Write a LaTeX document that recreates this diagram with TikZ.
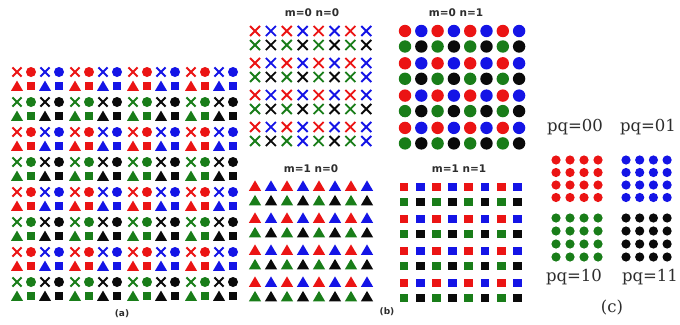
\documentclass[tikz,border=0pt]{standalone}
\usepackage{fontspec}
\setmainfont{DejaVu Serif}
\newfontfamily\titlefont{DejaVu Sans}
\definecolor{cR}{RGB}{235,20,20}
\definecolor{cB}{RGB}{20,20,230}
\definecolor{cG}{RGB}{25,125,25}
\definecolor{cK}{RGB}{10,10,10}
\definecolor{txt}{RGB}{45,45,45}
\tikzset{
  symx/.pic={\draw[line width=1.9pt] (-#1,-#1) -- (#1,#1) (-#1,#1) -- (#1,-#1);},
  symo/.pic={\fill (0,0) circle (#1pt);},
  symt/.pic={\fill (-#1,0.8*#1) -- (#1,0.8*#1) -- (0,-0.9*#1) -- cycle;},
  syms/.pic={\fill (-#1,-#1) rectangle (#1,#1);},
  ttl/.style={font=\titlefont\bfseries\fontsize{10.5}{12}\selectfont, text=txt},
  sublbl/.style={font=\titlefont\bfseries\fontsize{9}{10}\selectfont, text=txt},
  pqlbl/.style={font=\fontsize{16.5}{18}\selectfont, text=txt},
}
\begin{document}
\begin{tikzpicture}[x=1pt,y=-1pt]
\useasboundingbox (0,0) rectangle (680,324);
\fill[white] (0,0) rectangle (680,324);
% ---------- panel (a)
\foreach \b in {0,1,2,3}{
  \foreach \q/\ca/\cb in {0/cR/cB,1/cG/cK,2/cR/cB,3/cG/cK,4/cR/cB,5/cG/cK,6/cR/cB,7/cG/cK}{
    \pgfmathsetmacro\xx{17+58*\b}
    \pgfmathsetmacro\yy{72+30*\q}
    \pic[color=\ca] at (\xx,\yy) {symx=4.6};
    \pic[color=\ca] at (\xx+14,\yy) {symo=5};
    \pic[color=\cb] at (\xx+28,\yy) {symx=4.6};
    \pic[color=\cb] at (\xx+42,\yy) {symo=5};
    \pic[color=\ca] at (\xx,\yy+14) {symt=6};
    \pic[color=\ca] at (\xx+14,\yy+14) {syms=4};
    \pic[color=\cb] at (\xx+28,\yy+14) {symt=6};
    \pic[color=\cb] at (\xx+42,\yy+14) {syms=4};
  }
}
\node[sublbl] (la) at (122,314) {(a)};
% ---------- panel (b): m=0 n=0 crosses
\node[ttl] (t00) at (312,13) {m=0 n=0};
\foreach \r/\cl in {0/{cR,cB,cR,cB,cR,cB,cR,cB},1/{cG,cK,cG,cK,cG,cK,cG,cK},
                    2/{cR,cB,cR,cB,cR,cB,cR,cB},3/{cG,cK,cG,cK,cG,cK,cG,cB},
                    4/{cR,cB,cR,cB,cR,cB,cR,cB},5/{cG,cK,cG,cK,cG,cK,cG,cK},
                    6/{cR,cB,cR,cB,cR,cB,cR,cB},7/{cG,cK,cG,cB,cG,cK,cG,cB}}{
  \pgfmathsetmacro\yy{31+32*int(\r/2)+14*mod(\r,2)}
  \foreach \c [count=\k from 0] in \cl{
    \pic[color=\c] at (255+15.9*\k,\yy) {symx=5};
  }
}
% circles, triangles, squares
\node[ttl] (t01) at (456,13) {m=0 n=1};
\foreach \r in {0,...,7}{
  \pgfmathtruncatemacro\rodd{mod(\r,2)}
  \pgfmathtruncatemacro\pr{int(\r/2)}
  \foreach \k in {0,...,7}{
    \pgfmathtruncatemacro\odd{mod(\k,2)}
    \ifnum\rodd=0 \ifnum\odd=0 \def\c{cR}\else\def\c{cB}\fi
    \else \ifnum\odd=0 \def\c{cG}\else\def\c{cK}\fi\fi
    \pic[color=\c] at (405+16.3*\k,31+32.3*\pr+15.5*\rodd) {symo=6.2};
    \pic[color=\c] at (255+16*\k,186+32*\pr+14.5*\rodd) {symt=6.2};
    \pic[color=\c] at (404+16.2*\k,187+32*\pr+15*\rodd) {syms=4.4};
  }
}
\node[ttl] (t10) at (311,169) {m=1 n=0};
\node[ttl] (t11) at (459,169) {m=1 n=1};
\node[sublbl] (lb) at (387,312) {(b)};
% ---------- panel (c)
\node[pqlbl] (p00) at (575,127) {pq=00};
\node[pqlbl] (p01) at (648,127) {pq=01};
\node[pqlbl] (p10) at (574,277) {pq=10};
\node[pqlbl] (p11) at (650,277) {pq=11};
\node[pqlbl] (lc) at (612,308) {(c)};
\foreach \r in {0,...,3}{
  \foreach \k in {0,...,3}{
    \pic[color=cR] at (556+14*\k,160+12.5*\r) {symo=4.6};
    \pic[color=cB] at (626+13.7*\k,160+12.5*\r) {symo=4.6};
    \pic[color=cG] at (556+14*\k,218+13*\r) {symo=4.6};
    \pic[color=cK] at (626+13.7*\k,218+13*\r) {symo=4.6};
  }
}
\end{tikzpicture}
\end{document}
